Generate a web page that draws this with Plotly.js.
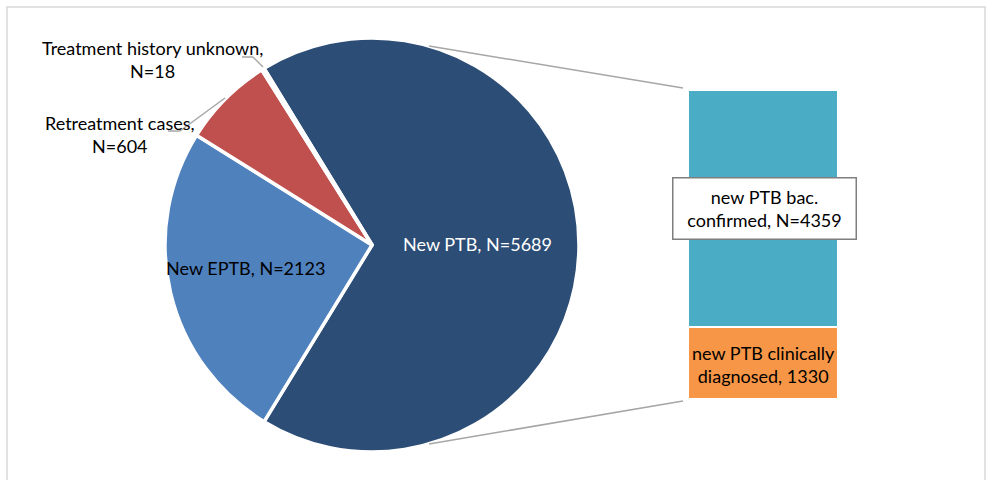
<!DOCTYPE html>
<html>
<head>
<meta charset="utf-8">
<script src="https://cdn.plot.ly/plotly-3.0.1.min.js"></script>
<style>html,body{margin:0;padding:0;background:#fff;}#chart{width:987px;height:480px;}</style>
</head>
<body>
<div id="chart"></div>
<script>
// ---- data ----
var pieLabels = ["New PTB", "New EPTB", "Retreatment cases", "Treatment history unknown"];
var pieValues = [5689, 2123, 604, 18];
var pieColors = ["#2C4D75", "#4F81BD", "#C0504D", "#9BBB59"];

var barLabels = ["new PTB clinically diagnosed", "new PTB bac. confirmed"];
var barValues = [1330, 4359];
var barColors = ["#F79646", "#4BACC6"];

// ---- geometry helpers ----
var W = 987, H = 480;
function px(x) { return x / W; }
function py(y) { return 1 - y / H; }

var total = pieValues.reduce(function (a, b) { return a + b; }, 0);
var rotation = 90 - 180 * pieValues[0] / total;

var pieCx = 372, pieCy = 245, pieR = 207;
var barX0 = 688, barX1 = 838, barTop = 90, barBot = 399;

var pie = {
  type: "pie",
  labels: pieLabels,
  values: pieValues,
  sort: false,
  direction: "clockwise",
  rotation: rotation,
  marker: { colors: pieColors, line: { color: "#ffffff", width: 3.5 } },
  textinfo: "none",
  hoverinfo: "label+value",
  showlegend: false,
  domain: { x: [px(pieCx - pieR), px(pieCx + pieR)], y: [py(pieCy + pieR), py(pieCy - pieR)] }
};

var bars = barLabels.map(function (lab, i) {
  return {
    type: "bar",
    x: ["PTB"],
    y: [barValues[i]],
    name: lab,
    xaxis: "x",
    yaxis: "y",
    marker: { color: barColors[i], line: { color: "#ffffff", width: 2 } },
    showlegend: false,
    hoverinfo: "name+y"
  };
});

// connector lines from pie edge to bar corners
var connAngle = 16 * Math.PI / 180;
var topPt = [pieCx + pieR * Math.sin(connAngle), pieCy - pieR * Math.cos(connAngle)];
var botPt = [pieCx + pieR * Math.sin(connAngle), pieCy + pieR * Math.cos(connAngle)];

var lineStyle = { color: "#A6A6A6", width: 1.5 };
function seg(x0, y0, x1, y1, st) {
  return { type: "line", xref: "paper", yref: "paper", x0: px(x0), y0: py(y0), x1: px(x1), y1: py(y1), line: st || lineStyle };
}

var shapes = [
  // chart border
  { type: "rect", xref: "paper", yref: "paper", x0: px(7), y0: py(486), x1: px(985), y1: py(7), line: { color: "#D9D9D9", width: 1.5 } },
  seg(topPt[0], topPt[1], barX0 - 5, barTop - 2),
  seg(botPt[0], botPt[1], barX0 - 5, barBot + 2),
  // leader: retreatment
  seg(168, 131, 180, 131),
  seg(180, 131, 225, 98),
  // leader: unknown
  seg(242, 57, 253, 57),
  seg(253, 57, 263, 67)
];

var font = "Lato, 'Open Sans', sans-serif";
function ann(text, x, y, color, extra) {
  var a = {
    text: text, xref: "paper", yref: "paper", x: px(x), y: py(y),
    xanchor: "center", yanchor: "middle", showarrow: false,
    font: { family: font, size: 18, color: color }
  };
  if (extra) for (var k in extra) a[k] = extra[k];
  return a;
}

var annotations = [
  ann(pieLabels[0] + ", N=" + pieValues[0], 477, 244, "#ffffff"),
  ann(pieLabels[1] + ", N=" + pieValues[1], 245, 268, "#000000"),
  ann("Retreatment cases,<br>N=" + pieValues[2], 120, 134, "#000000"),
  ann("Treatment history unknown,<br>N=" + pieValues[3], 152, 59, "#000000"),
  ann("new PTB bac.<br>confirmed, N=" + barValues[1], 764, 208, "#000000",
      { bgcolor: "#ffffff", bordercolor: "#7F7F7F", borderwidth: 1.5, borderpad: 1, width: 180, height: 58 }),
  ann("new PTB clinically<br>diagnosed, " + barValues[0], 763, 364, "#000000")
];

var layout = {
  width: W, height: H,
  margin: { l: 0, r: 0, t: 0, b: 0 },
  paper_bgcolor: "#ffffff",
  plot_bgcolor: "rgba(0,0,0,0)",
  barmode: "stack",
  bargap: 0,
  xaxis: { domain: [px(barX0), px(barX1)], visible: false, fixedrange: true },
  yaxis: { domain: [py(barBot), py(barTop)], range: [0, total - pieValues[1] - pieValues[2] - pieValues[3]], visible: false, fixedrange: true },
  shapes: shapes,
  annotations: annotations,
  font: { family: font }
};

Plotly.newPlot("chart", [pie].concat(bars), layout, { displayModeBar: false, staticPlot: true });
</script>
</body>
</html>
